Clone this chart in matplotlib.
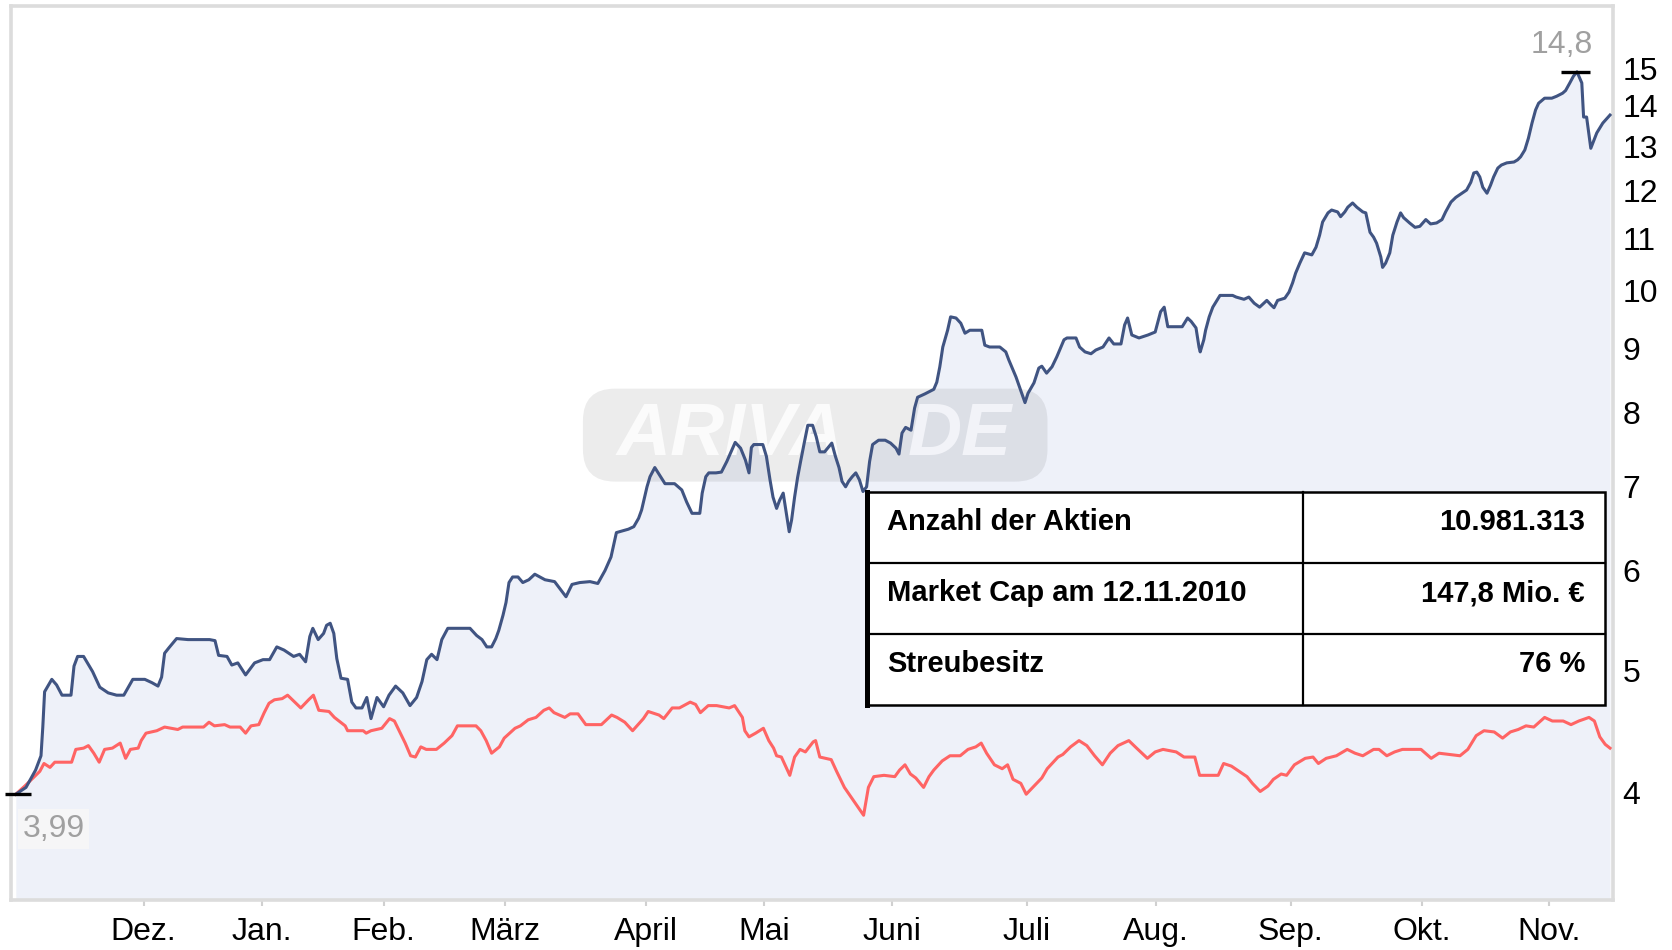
import matplotlib
matplotlib.use("Agg")
import matplotlib.pyplot as plt
from matplotlib.patches import FancyBboxPatch, Rectangle
from matplotlib.ticker import NullLocator

# trading-day index / price pairs
blue_day = [0, 1.7, 3.3, 4.2, 4.5, 4.8, 6, 6.8, 7.7, 9.2,
            9.7, 10.3, 11.3, 12.8, 14, 15.4, 16.8, 18, 19.5, 21.5,
            22.7, 23.7, 24.3, 24.8, 25.5, 26.8, 28.7, 32.3, 33.2, 33.8,
            35.2, 36, 37, 38.3, 39.8, 41.2, 42.3, 43.5, 44.7, 46.3,
            47.3, 48.3, 49, 49.5, 50.4, 51.3, 51.8, 52.4, 53, 53.5,
            54.2, 55.3, 56, 56.7, 57.7, 58.5, 59.2, 60.2, 61.3, 62.2,
            63.3, 64.5, 65.7, 66.8, 67.7, 68.5, 69.3, 70.2, 71, 72,
            75.7, 76.8, 77.7, 78.5, 79.3, 80, 80.5, 81.2, 81.7, 82.2,
            82.8, 83.7, 84.5, 85.5, 86.5, 88.2, 89.8, 91.7, 92.7, 94,
            95.7, 97, 98.2, 99.2, 100.1, 102.1, 103, 103.8, 104.3, 105.2,
            105.7, 106.5, 107.3, 108.2, 109.8, 111, 111.8, 112.7, 114, 114.4,
            115, 115.5, 116.7, 117.6, 118.5, 119.2, 119.9, 120.8, 121.6, 122.2,
            122.6, 123, 124.5, 125.1, 125.7, 126.2, 126.8, 127.3, 127.9, 128.3,
            128.9, 129.3, 129.8, 130.3, 130.8, 131.4, 132, 132.8, 133.4, 134,
            134.8, 135.4, 136, 136.6, 137.2, 137.7, 138.3, 138.8, 139.4, 140,
            140.6, 141.2, 141.8, 142.3, 142.8, 143.8, 144.9, 145.8, 146.7, 147.2,
            147.7, 148.3, 149.2, 149.8, 150.3, 151.5, 153, 153.5, 154, 154.5,
            155.3, 155.8, 156.7, 157.5, 158.2, 159, 161, 161.5, 162.3, 164,
            165, 165.5, 166.7, 167.3, 168.2, 168.7, 169.7, 170.5, 171, 171.8,
            172.7, 173.5, 174.7, 175.2, 176.7, 177.3, 178.2, 179.2, 180, 181.2,
            182.2, 183, 184.2, 184.8, 185.3, 186, 187.2, 188.7, 189.9, 190.8,
            191.4, 192, 194.4, 195.3, 195.9, 196.7, 197.2, 197.4, 198, 198.3,
            198.9, 199.5, 200.2, 200.7, 202.8, 203.4, 204.7, 205.5, 206.4, 207.3,
            208.5, 209.2, 209.7, 210.3, 211.5, 212.2, 212.8, 213.3, 214, 214.8,
            216, 216.7, 217.3, 217.8, 218.7, 219.3, 220.3, 220.8, 221.5, 222,
            222.8, 223.5, 224.5, 225, 225.7, 226.3, 226.8, 227.5, 227.8, 228.3,
            229, 229.5, 230.2, 230.8, 231.3, 232.3, 233.2, 234, 235, 235.8,
            236.8, 237.7, 238.3, 239.2, 240, 241, 241.8, 242.5, 243, 243.5,
            244, 244.5, 245.2, 245.8, 246.3, 247, 247.6, 248.5, 249.7, 250.3,
            250.8, 251.5, 252.1, 252.7, 253.3, 253.8, 254.8, 256, 256.8, 257.8,
            258.3, 259, 259.6, 260.2, 261, 261.3, 261.8, 262.5, 263.5, 264.5,
            265.7]
blue_price = [3.99, 4.04, 4.17, 4.28, 4.51, 4.81, 4.92, 4.87, 4.78, 4.78,
              5.04, 5.13, 5.13, 4.99, 4.85, 4.80, 4.78, 4.78, 4.92, 4.92,
              4.89, 4.86, 4.94, 5.16, 5.21, 5.30, 5.29, 5.29, 5.28, 5.14,
              5.13, 5.05, 5.07, 4.96, 5.07, 5.10, 5.10, 5.22, 5.19, 5.13,
              5.15, 5.08, 5.32, 5.40, 5.29, 5.35, 5.43, 5.45, 5.35, 5.11,
              4.93, 4.92, 4.72, 4.67, 4.67, 4.76, 4.58, 4.76, 4.68, 4.78,
              4.86, 4.80, 4.69, 4.76, 4.90, 5.10, 5.15, 5.10, 5.29, 5.40,
              5.40, 5.33, 5.29, 5.22, 5.22, 5.30, 5.38, 5.53, 5.66, 5.87,
              5.93, 5.93, 5.87, 5.90, 5.96, 5.90, 5.88, 5.72, 5.85, 5.87,
              5.88, 5.86, 6.00, 6.15, 6.43, 6.47, 6.50, 6.60, 6.70, 6.99,
              7.12, 7.24, 7.14, 7.03, 7.03, 6.95, 6.80, 6.66, 6.66, 6.91,
              7.12, 7.17, 7.17, 7.18, 7.32, 7.45, 7.58, 7.50, 7.34, 7.17,
              7.51, 7.55, 7.55, 7.39, 7.08, 6.86, 6.72, 6.82, 6.91, 6.72,
              6.44, 6.58, 6.86, 7.11, 7.32, 7.57, 7.82, 7.82, 7.66, 7.45,
              7.45, 7.51, 7.57, 7.39, 7.24, 7.06, 6.99, 7.06, 7.12, 7.17,
              7.08, 6.93, 6.99, 7.32, 7.55, 7.61, 7.61, 7.57, 7.50, 7.42,
              7.71, 7.79, 7.75, 8.07, 8.23, 8.28, 8.35, 8.46, 8.70, 9.02,
              9.30, 9.53, 9.51, 9.42, 9.25, 9.30, 9.30, 9.05, 9.02, 9.02,
              8.94, 8.81, 8.54, 8.38, 8.15, 8.29, 8.45, 8.68, 8.71, 8.60,
              8.70, 8.86, 9.14, 9.17, 9.17, 9.02, 8.94, 8.91, 8.97, 9.02,
              9.17, 9.07, 9.07, 9.39, 9.51, 9.22, 9.17, 9.22, 9.27, 9.62,
              9.70, 9.36, 9.36, 9.51, 9.45, 9.34, 9.02, 8.94, 9.14, 9.30,
              9.53, 9.70, 9.82, 9.91, 9.91, 9.88, 9.84, 9.88, 9.77, 9.70,
              9.82, 9.74, 9.69, 9.82, 9.86, 9.97, 10.14, 10.32, 10.51, 10.71,
              10.67, 10.82, 11.06, 11.33, 11.52, 11.58, 11.54, 11.44, 11.54, 11.64,
              11.73, 11.64, 11.54, 11.52, 11.12, 11.02, 10.90, 10.63, 10.43, 10.51,
              10.71, 11.06, 11.33, 11.52, 11.42, 11.31, 11.22, 11.24, 11.38, 11.29,
              11.31, 11.38, 11.54, 11.75, 11.85, 11.94, 12.01, 12.18, 12.39, 12.41,
              12.30, 12.07, 11.94, 12.12, 12.30, 12.50, 12.57, 12.62, 12.64, 12.69,
              12.76, 12.92, 13.20, 13.57, 13.90, 14.07, 14.20, 14.20, 14.25, 14.33,
              14.40, 14.60, 14.78, 14.90, 14.60, 13.72, 13.72, 12.96, 13.33, 13.57,
              13.77]

red_day = [0, 1.5, 4, 4.7, 5.7, 6.5, 9.3, 10, 11.3, 12.1,
           13, 13.9, 14.8, 16.1, 17.4, 18.3, 19.1, 20.4, 20.9, 21.7,
           23.5, 24.8, 27, 27.8, 31.3, 32.2, 33.1, 34.8, 35.7, 37.4,
           38.3, 39.2, 40.5, 41.4, 42.2, 43.1, 44.4, 45.3, 46.1, 47.5,
           48.8, 49.6, 50.5, 52.2, 53.1, 54.9, 55.3, 57.9, 58.4, 59.2,
           61, 62.3, 63.1, 64, 64.9, 65.8, 66.6, 67.5, 68.4, 70.1,
           71.4, 72.7, 73.6, 76.7, 77.5, 78.4, 79.3, 80.6, 81.4, 82.3,
           83.2, 84.1, 85.4, 86.7, 88, 88.9, 89.7, 91.5, 92.4, 93.7,
           95, 97.6, 99.3, 100.2, 101.5, 102.8, 104.6, 105.4, 107.2, 108,
           109.4, 110.6, 112.4, 113.3, 114.1, 115.4, 116.8, 118.9, 119.8, 121.1,
           121.5, 122.2, 123.3, 124.6, 125.5, 126.3, 126.8, 127.6, 128.5, 129,
           129.8, 130.7, 131.6, 132.9, 133.3, 134, 135.9, 136.8, 138.1, 141.3,
           142.1, 143, 144.7, 146.5, 147.3, 148.2, 149.1, 150, 151.3, 152.2,
           153, 154.4, 155.7, 157.4, 158.7, 160, 160.9, 161.8, 163.1, 164.4,
           165.3, 166.2, 167.5, 168.4, 169.7, 171, 171.9, 173.7, 174.5, 175.8,
           177.2, 178.5, 179.8, 181.1, 182.4, 183.7, 185.5, 186.8, 188.6, 189.9,
           191.2, 193.4, 194.7, 196.5, 197.3, 200.4, 201.3, 202.6, 203.9, 205.2,
           206.1, 207.4, 208.7, 209.6, 210.9, 211.8, 213.1, 214.9, 216.2, 217.1,
           218.4, 220.1, 221.9, 223.2, 224.5, 226.3, 227.2, 228.5, 229.8, 231.1,
           232.9, 234.2, 235.9, 237.2, 238.9, 240.7, 242, 243.4, 244.7, 246.4,
           247.8, 249.1, 250.4, 251.7, 253, 254.8, 256.1, 257.9, 259.2, 260.5,
           262.2, 263.1, 264, 264.9, 265.7]
red_price = [3.99, 4.05, 4.16, 4.22, 4.19, 4.23, 4.23, 4.33, 4.34, 4.36,
             4.30, 4.23, 4.33, 4.34, 4.38, 4.26, 4.33, 4.34, 4.40, 4.46,
             4.48, 4.51, 4.49, 4.51, 4.51, 4.55, 4.52, 4.53, 4.51, 4.51,
             4.46, 4.52, 4.53, 4.63, 4.71, 4.74, 4.75, 4.78, 4.74, 4.67,
             4.74, 4.78, 4.65, 4.64, 4.59, 4.52, 4.48, 4.48, 4.46, 4.48,
             4.50, 4.58, 4.56, 4.47, 4.38, 4.28, 4.27, 4.35, 4.33, 4.33,
             4.38, 4.44, 4.52, 4.52, 4.48, 4.40, 4.30, 4.35, 4.42, 4.46,
             4.50, 4.52, 4.57, 4.59, 4.65, 4.67, 4.63, 4.59, 4.62, 4.62,
             4.53, 4.53, 4.61, 4.59, 4.55, 4.48, 4.58, 4.64, 4.61, 4.58,
             4.67, 4.67, 4.72, 4.70, 4.63, 4.69, 4.69, 4.67, 4.69, 4.59,
             4.48, 4.43, 4.46, 4.50, 4.40, 4.34, 4.28, 4.27, 4.18, 4.13,
             4.27, 4.33, 4.31, 4.39, 4.40, 4.27, 4.25, 4.16, 4.04, 3.84,
             4.04, 4.12, 4.13, 4.12, 4.17, 4.21, 4.14, 4.11, 4.04, 4.12,
             4.17, 4.24, 4.28, 4.28, 4.33, 4.35, 4.38, 4.30, 4.21, 4.18,
             4.21, 4.10, 4.07, 3.99, 4.05, 4.11, 4.18, 4.27, 4.29, 4.35,
             4.40, 4.36, 4.28, 4.21, 4.30, 4.36, 4.40, 4.34, 4.26, 4.31,
             4.33, 4.31, 4.27, 4.27, 4.13, 4.13, 4.22, 4.20, 4.16, 4.12,
             4.07, 4.01, 4.05, 4.10, 4.14, 4.13, 4.21, 4.26, 4.27, 4.22,
             4.26, 4.28, 4.33, 4.30, 4.28, 4.33, 4.33, 4.28, 4.31, 4.33,
             4.33, 4.33, 4.26, 4.30, 4.29, 4.28, 4.33, 4.44, 4.48, 4.47,
             4.42, 4.47, 4.49, 4.52, 4.51, 4.59, 4.56, 4.56, 4.53, 4.56,
             4.59, 4.56, 4.43, 4.37, 4.34]

month_day = [21.3, 41, 61.3, 81.5, 105, 124.7, 146, 168.5, 190, 212.5, 234.3, 255.5]
month_label = ["Dez.", "Jan.", "Feb.", "März", "April", "Mai", "Juni", "Juli",
               "Aug.", "Sep.", "Okt.", "Nov."]
price_ticks = [4, 5, 6, 7, 8, 9, 10, 11, 12, 13, 14, 15]

low_price, low_label = 3.99, "3,99"
high_price, high_label = 14.9, "14,8"

table_rows = [("Anzahl der Aktien", "10.981.313"),
              ("Market Cap am 12.11.2010", "147,8 Mio. €"),
              ("Streubesitz", "76 %")]

blue = "#405482"
red = "#ff6464"
fill = "#eef1f9"
frame = "#dcdcdc"
tick_font = ["Liberation Sans", "DejaVu Sans"]

W, H = 1672, 950
fig = plt.figure(figsize=(W / 100, H / 100), dpi=100)
ax = fig.add_axes([11 / W, 50 / H, 1602 / W, 894 / H])

ymin, ymax = 3.29, 16.8
ax.set_yscale("log")
ax.set_ylim(ymin, ymax)
ax.set_xlim(-0.8, 266.2)

ax.fill_between(blue_day, blue_price, ymin, color=fill, lw=0, zorder=1)

# watermark
ax.add_patch(FancyBboxPatch((0.357, 0.468), 0.29, 0.104, transform=ax.transAxes,
                            boxstyle="round,pad=0,rounding_size=0.02",
                            mutation_aspect=1.8, fc="k", alpha=0.075, lw=0, zorder=2))
ax.text(0.449, 0.52, "ARIVA", transform=ax.transAxes, fontsize=54, color="#fbfbfb",
        fontweight="bold", fontstyle="italic", family="Liberation Sans",
        ha="center", va="center", zorder=2)
ax.text(0.592, 0.52, "DE", transform=ax.transAxes, fontsize=54, color="#f2f3f8",
        fontweight="bold", fontstyle="italic", family="Liberation Sans",
        ha="center", va="center", zorder=2)

ax.plot(red_day, red_price, color=red, lw=2.2, zorder=3)
ax.plot(blue_day, blue_price, color=blue, lw=2.2, zorder=4)

# low / high markers
ax.plot([-1.8, 2.5], [low_price, low_price], color="black", lw=2.4, zorder=5,
        clip_on=False, solid_capstyle="butt")
ax.plot([257.5, 262.3], [high_price, high_price], color="black", lw=2.4, zorder=5,
        solid_capstyle="butt")
ax.text(6.3, 3.745, low_label, fontsize=23, color="#a0a0a0", family=tick_font,
        ha="center", va="center", zorder=5,
        bbox=dict(boxstyle="square,pad=0.15", fc="#f6f6f7", ec="none"))
ax.text(257.7, 15.65, high_label, fontsize=23, color="#a0a0a0", family=tick_font,
        ha="center", va="center", zorder=5)

# axes styling
for sp in ax.spines.values():
    sp.set_color(frame)
    sp.set_linewidth(2.6)
ax.yaxis.tick_right()
ax.set_yticks(price_ticks)
ax.set_yticklabels([str(t) for t in price_ticks])
ax.yaxis.set_minor_locator(NullLocator())
ax.tick_params(axis="y", length=0, pad=7, labelsize=23)
ax.set_xticks(month_day)
ax.set_xticklabels(month_label)
ax.tick_params(axis="x", length=4.5, width=1.5, color="#d0d0d0", pad=8, labelsize=23)
for lab in ax.get_xticklabels() + ax.get_yticklabels():
    lab.set_family(tick_font)

# info table
tax = fig.add_axes([867 / W, (H - 705) / H, 738 / W, 213 / H])
tax.set_xlim(0, 1)
tax.set_ylim(1, 0)
tax.axis("off")
tax.add_patch(Rectangle((0, 0), 1, 1, fc="white", ec="black", lw=1.8, zorder=1,
                        clip_on=False))
tax.plot([0, 0], [0, 1], color="black", lw=3.6, zorder=2, solid_capstyle="projecting",
         clip_on=False)
tax.plot([0.591, 0.591], [0, 1], color="black", lw=1.6, zorder=2, clip_on=False)
for r in (1 / 3, 2 / 3):
    tax.plot([0, 1], [r, r], color="black", lw=1.6, zorder=2, clip_on=False)
for k, (name, val) in enumerate(table_rows):
    ty = k / 3 + 0.141
    tax.text(0.027, ty, name, fontsize=21, fontweight="bold", family="Liberation Sans",
             ha="left", va="center", zorder=3)
    tax.text(0.973, ty, val, fontsize=21, fontweight="bold", family="Liberation Sans",
             ha="right", va="center", zorder=3)

fig.savefig("out.png", dpi=100)
